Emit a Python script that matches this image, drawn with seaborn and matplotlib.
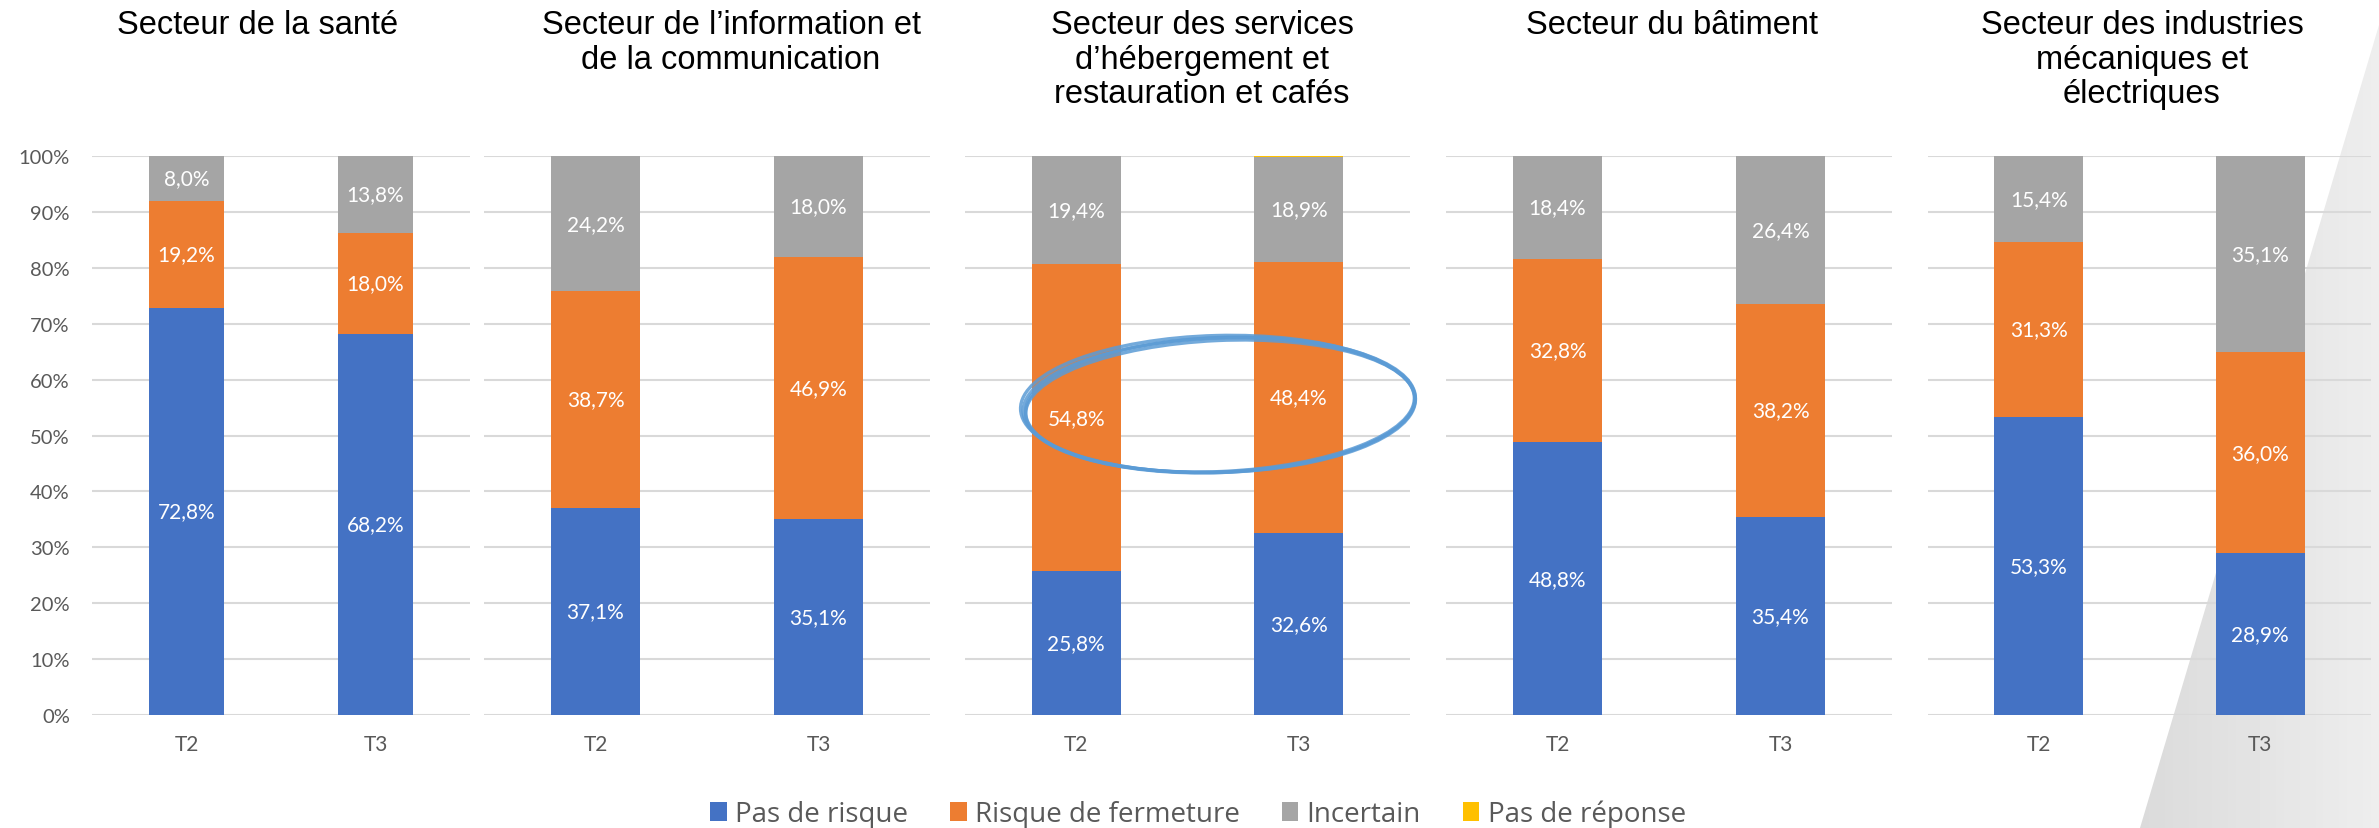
import numpy as np
import pandas as pd
import matplotlib.pyplot as plt
import seaborn as sns
from matplotlib.patches import Patch, Ellipse, Polygon

sns.set_style("white")
plt.rcParams['font.family'] = ['Lato', 'DejaVu Sans']

# données (en %)
secteurs = [
    "Secteur de la santé",
    "Secteur de l’information et\nde la communication",
    "Secteur des services\nd’hébergement et\nrestauration et cafés",
    "Secteur du bâtiment",
    "Secteur des industries\nmécaniques et\nélectriques",
]
periodes = ["T2", "T3"]
pas_de_risque = [[72.8, 68.2], [37.1, 35.1], [25.8, 32.6], [48.8, 35.4], [53.3, 28.9]]
risque_fermeture = [[19.2, 18.0], [38.7, 46.9], [54.8, 48.4], [32.8, 38.2], [31.3, 36.0]]
incertain = [[8.0, 13.8], [24.2, 18.0], [19.4, 18.9], [18.4, 26.4], [15.4, 35.1]]
pas_de_reponse = [[0, 0], [0, 0], [0, 0.1], [0, 0], [0, 0]]

series = ["Pas de risque", "Risque de fermeture", "Incertain", "Pas de réponse"]
couleurs = ["#4472C4", "#ED7D31", "#A5A5A5", "#FFC000"]

W, H = 2379, 829
fig = plt.figure(figsize=(W / 100, H / 100), dpi=100)

# fond triangle gris à droite (dégradé horizontal)
bg = fig.add_axes([0, 0, 1, 1], zorder=-10)
bg.axis('off')
bg.set_xlim(0, 1)
bg.set_ylim(0, 1)
gx = np.linspace(0, 1, 300)
grad = np.tile(0.855 + 0.075 * np.clip((gx - 2140 / W) / (1 - 2140 / W), 0, 1), (50, 1))
img = bg.imshow(grad, cmap='gray', vmin=0, vmax=1, extent=[0, 1, 0, 1],
                origin='lower', aspect='auto')
tri = Polygon([[2140 / W, 0], [1, 0], [1, 1 - 26 / H]], closed=True,
              transform=bg.transData, facecolor='none', edgecolor='none')
bg.add_patch(tri)
img.set_clip_path(tri)

# positions des graphiques (pixels)
ax_x = [(92, 470), (484, 930), (965, 1410), (1446, 1892), (1928, 2371)]
titre_x = [258, 731, 1202, 1672, 2142]
y_top, y_bot = 157, 716

for k in range(5):
    x0, x1 = ax_x[k]
    ax = fig.add_axes([x0 / W, 1 - y_bot / H, (x1 - x0) / W, (y_bot - y_top) / H])
    ax.set_facecolor('none')

    df = pd.DataFrame({
        "periode": periodes,
        "Pas de risque": pas_de_risque[k],
        "Risque de fermeture": risque_fermeture[k],
        "Incertain": incertain[k],
        "Pas de réponse": pas_de_reponse[k],
    })
    cum = df[series].cumsum(axis=1)

    # empilement : on dessine du plus haut au plus bas
    for s, c in zip(series[::-1], couleurs[::-1]):
        sns.barplot(x=df["periode"], y=cum[s], color=c, saturation=1,
                    width=0.4, errorbar=None, linewidth=0, ax=ax)

    # étiquettes
    for i in range(len(periodes)):
        base = 0
        for s in series[:3]:
            v = df[s].iloc[i]
            ax.text(i, base + v / 2, f"{v:.1f}".replace('.', ',') + "%",
                    ha='center', va='center', color='white', fontsize=15)
            base += v

    ax.set_ylim(0, 100)
    ax.set_xlim(-0.5, 1.5)
    ax.set_yticks(range(0, 101, 10))
    ax.set_axisbelow(True)
    ax.yaxis.grid(True, color='#D9D9D9', linewidth=1.5)
    for sp in ax.spines.values():
        sp.set_visible(False)
    ax.set_xlabel("")
    ax.set_ylabel("")
    ax.tick_params(axis='x', length=0, pad=14, labelsize=15, labelcolor='#595959')
    if k == 0:
        ax.set_yticklabels([f"{v}%" for v in range(0, 101, 10)])
        ax.tick_params(axis='y', length=0, pad=16, labelsize=14.5, labelcolor='#595959')
    else:
        ax.tick_params(axis='y', length=0, labelleft=False)

    fig.text(titre_x[k] / W, 1 - 10 / H, secteurs[k], ha='center', va='top',
             fontsize=23.5, family=['Liberation Sans', 'DejaVu Sans'],
             linespacing=1.15, color='black')

# cercle dessiné à la main autour des risques de fermeture
traits = [(0, 0, 3.92, 1.34, 2.0), (0.01, -0.01, 3.89, 1.31, 2.6),
          (-0.01, 0.01, 3.95, 1.37, 1.5), (0.015, 0.0, 3.90, 1.35, 2.3)]
for dx, dy, w, h, a in traits:
    fig.add_artist(Ellipse((12.19 + dx, 4.23 + dy), w, h, angle=a, fill=False,
                           edgecolor='#5B9BD5', linewidth=2.4, alpha=0.85,
                           transform=fig.dpi_scale_trans))

handles = [Patch(facecolor=c, edgecolor='none') for c in couleurs]
fig.legend(handles, series, loc='center', bbox_to_anchor=(1198 / W, 1 - 815 / H),
           ncol=4, frameon=False, handlelength=0.6, handleheight=0.65,
           handletextpad=0.3, columnspacing=1.5, labelcolor='#595959',
           prop={'family': ['Open Sans', 'DejaVu Sans'], 'size': 20})

fig.savefig("out.png", dpi=100)
